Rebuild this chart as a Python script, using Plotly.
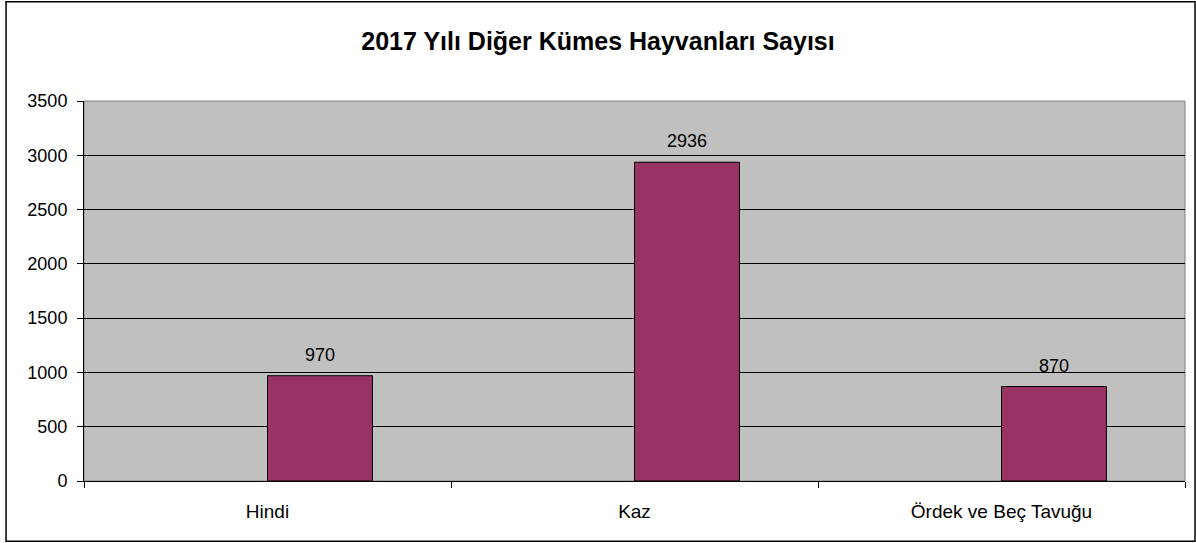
import plotly.graph_objects as go

categories = ["Hindi", "Kaz", "Ördek ve Beç Tavuğu"]
values = [970, 2936, 870]
y_ticks = [0, 500, 1000, 1500, 2000, 2500, 3000, 3500]

font_family = "Arial, Liberation Sans, sans-serif"
bar_w = 0.286  # bars sit to the right of the category centre, like the excel original

fig = go.Figure()
fig.add_trace(go.Bar(
    x=categories, y=values, width=bar_w, offset=0,
    marker=dict(color="#993366", line=dict(color="black", width=1)),
    hoverinfo="skip",
))

# data labels above bars
for c, v in zip(categories, values):
    fig.add_annotation(x=c, y=v, text=str(v), showarrow=False,
                       yanchor="middle", yshift=21, xshift=52,
                       font=dict(size=18, color="black", family=font_family))

fig.update_layout(
    width=1196, height=543,
    margin=dict(l=84, r=11, t=101, b=62),
    paper_bgcolor="white", plot_bgcolor="#C0C0C0",
    showlegend=False,
    font=dict(family=font_family, size=18, color="black"),
    title=dict(text="<b>2017 Yılı Diğer Kümes Hayvanları Sayısı</b>",
               x=0.5, xanchor="center", y=1 - 41 / 543, yanchor="middle",
               font=dict(size=25, color="black", family=font_family)),
)

fig.update_xaxes(
    type="category", tickson="boundaries", ticks="outside", ticklen=6,
    tickcolor="black", showline=True, linecolor="black", linewidth=1,
    showgrid=False, ticklabelstandoff=13, tickfont=dict(size=19),
    range=[-0.5, 2.5],
)
fig.update_yaxes(
    range=[0, 3500], tickvals=y_ticks, ticks="outside", ticklen=6,
    tickcolor="black", showline=True, linecolor="black", linewidth=1,
    showgrid=True, gridcolor="black", gridwidth=1, zeroline=False,
    ticklabelstandoff=6,
)

# plot area border (top/right grey) and outer chart border
fig.add_shape(type="rect", xref="paper", yref="paper", x0=0, x1=1, y0=0, y1=1,
              line=dict(color="#808080", width=1), layer="below")
fig.add_shape(type="rect", xref="paper", yref="paper",
              x0=-0.0708, x1=1.0091, y0=-0.1583, y1=1.2612,
              line=dict(color="black", width=1.5))

fig.write_html("out.html", config={"displayModeBar": False},
               post_script="document.body.style.margin='0';")
